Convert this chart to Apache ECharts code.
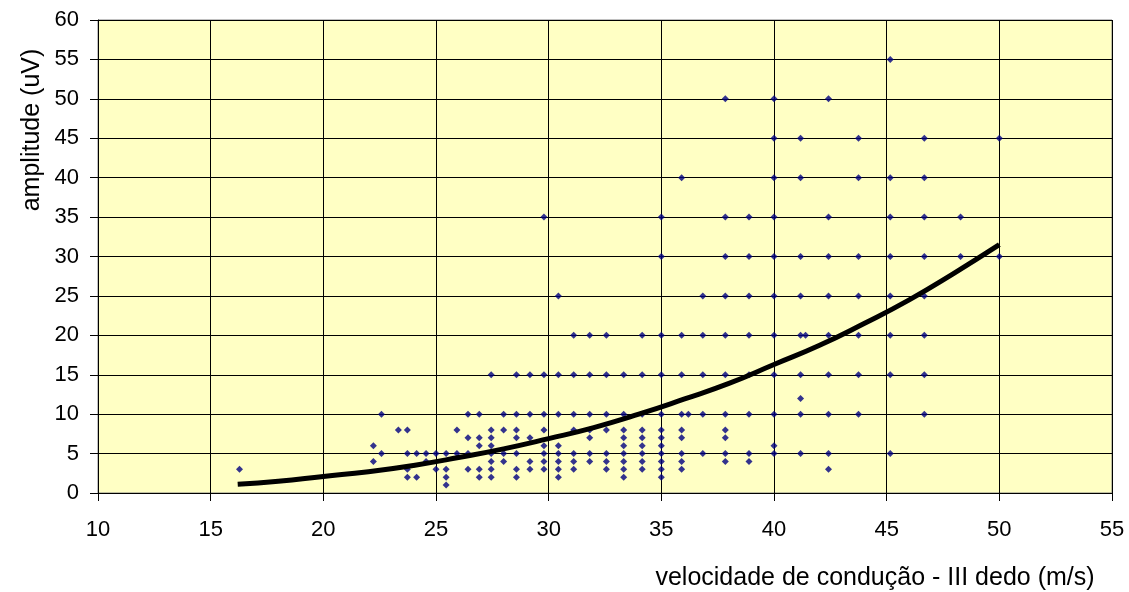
<!DOCTYPE html>
<html>
<head>
<meta charset="utf-8">
<script src="https://cdn.jsdelivr.net/npm/echarts@6/dist/echarts.min.js"></script>
<style>
html,body{margin:0;padding:0;background:#fff;}
#c{width:1129px;height:592px;}
</style>
</head>
<body>
<div id="c"></div>
<script>
// velocities (m/s) observed at each amplitude level (uV)
const amp1  = [25.45];
const amp2  = [23.73, 24.14, 25.45, 26.92, 27.45, 28.57, 30.43, 33.33, 35.0];
const amp3  = [16.28, 23.73, 25.0, 25.45, 26.42, 26.92, 27.45, 28.57, 29.17, 29.79, 30.43, 31.11, 32.56, 33.33, 34.15, 35.0, 35.9, 42.42];
const amp4  = [22.22, 24.56, 27.45, 28.0, 29.17, 29.79, 30.43, 31.11, 31.82, 32.56, 33.33, 34.15, 35.0, 35.9, 37.84, 38.89];
const amp5  = [22.58, 23.73, 24.14, 24.56, 25.0, 25.45, 25.93, 26.42, 27.45, 28.0, 28.57, 29.79, 30.43, 31.11, 31.82, 32.56, 33.33, 34.15, 35.0, 35.9, 36.84, 37.84, 38.89, 40.0, 41.18, 42.42, 45.16];
const amp6  = [22.22, 26.92, 27.45, 29.79, 30.43, 33.33, 34.15, 35.0, 40.0];
const amp7  = [26.42, 26.92, 27.45, 28.57, 29.17, 31.82, 33.33, 34.15, 35.0, 35.9, 37.84];
const amp8  = [23.33, 23.73, 25.93, 27.45, 28.0, 28.57, 29.79, 31.11, 31.82, 32.56, 33.33, 34.15, 35.0, 35.9, 37.84];
const amp10 = [22.58, 26.42, 26.92, 28.0, 28.57, 29.17, 29.79, 30.43, 31.11, 31.82, 32.56, 33.33, 34.15, 35.0, 35.9, 36.2, 36.84, 37.84, 38.89, 40.0, 41.18, 42.42, 43.75, 46.67];
const amp12 = [41.18];
const amp15 = [27.45, 28.57, 29.17, 29.79, 30.43, 31.11, 31.82, 32.56, 33.33, 34.15, 35.0, 35.9, 36.84, 37.84, 38.89, 40.0, 41.18, 42.42, 43.75, 45.16, 46.67];
const amp20 = [31.11, 31.82, 32.56, 34.15, 35.0, 35.9, 36.84, 37.84, 38.89, 40.0, 41.18, 41.4, 42.42, 43.75, 45.16, 46.67];
const amp25 = [30.43, 36.84, 37.84, 38.89, 40.0, 41.18, 42.42, 43.75, 45.16, 46.67];
const amp30 = [35.0, 37.84, 38.89, 40.0, 41.18, 42.42, 43.75, 45.16, 46.67, 48.28, 50.0];
const amp35 = [29.79, 35.0, 37.84, 38.89, 40.0, 42.42, 45.16, 46.67, 48.28];
const amp40 = [35.9, 40.0, 41.18, 43.75, 45.16, 46.67];
const amp45 = [40.0, 41.18, 43.75, 46.67, 50.0];
const amp50 = [37.84, 40.0, 42.42];
const amp55 = [45.16];

// trend curve
const trendX = [16.2, 18, 20, 22, 24, 26, 28, 30, 32, 34, 36, 38, 40, 42, 44, 46, 48, 50];
const trendY = [1.1, 1.5, 2.1, 2.7, 3.5, 4.5, 5.6, 6.9, 8.3, 10.0, 11.9, 13.9, 16.3, 18.7, 21.5, 24.5, 27.9, 31.5];

const xTitle = 'velocidade de condução - III dedo (m/s)';
const yTitle = 'amplitude (uV)';

const levels = [
  [1, amp1], [2, amp2], [3, amp3], [4, amp4], [5, amp5], [6, amp6], [7, amp7], [8, amp8],
  [10, amp10], [12, amp12], [15, amp15], [20, amp20], [25, amp25], [30, amp30],
  [35, amp35], [40, amp40], [45, amp45], [50, amp50], [55, amp55]
];
const scatterData = [];
levels.forEach(([a, xs]) => xs.forEach(x => scatterData.push([x, a])));
const trendData = trendX.map((x, i) => [x, trendY[i]]);

const FONT = 'Liberation Sans, Arial, sans-serif';
const chart = echarts.init(document.getElementById('c'), null, {renderer: 'canvas'});
chart.setOption({
  animation: false,
  backgroundColor: '#ffffff',
  grid: {
    left: 98, right: 17, top: 20, bottom: 99,
    show: true, backgroundColor: '#FFFFC4', borderColor: '#808080', borderWidth: 1
  },
  xAxis: {
    type: 'value', min: 10, max: 55, interval: 5,
    axisLine: {show: true, onZero: false, lineStyle: {color: '#000', width: 1}},
    axisTick: {show: true, length: 8, lineStyle: {color: '#000'}},
    axisLabel: {color: '#000', fontFamily: FONT, fontSize: 22, margin: 26},
    splitLine: {show: true, lineStyle: {color: '#000', width: 1}}
  },
  yAxis: {
    type: 'value', min: 0, max: 60, interval: 5,
    axisLine: {show: true, onZero: false, lineStyle: {color: '#000', width: 1}},
    axisTick: {show: true, length: 8, lineStyle: {color: '#000'}},
    axisLabel: {color: '#000', fontFamily: FONT, fontSize: 22, margin: 19},
    splitLine: {show: true, lineStyle: {color: '#000', width: 1}}
  },
  graphic: [
    {type: 'text', x: 875, y: 578, z: 10,
     style: {text: xTitle, fill: '#000', font: '25px ' + FONT, textAlign: 'center', textVerticalAlign: 'middle'}},
    {type: 'text', x: 32, y: 130, rotation: Math.PI / 2, z: 10,
     style: {text: yTitle, fill: '#000', font: '25px ' + FONT, textAlign: 'center', textVerticalAlign: 'middle'}}
  ],
  series: [
    {
      type: 'scatter', data: scatterData, symbol: 'diamond', symbolSize: 7,
      itemStyle: {color: '#000080'}, z: 2
    },
    {
      type: 'line', data: trendData, smooth: true, showSymbol: false, symbol: 'none',
      lineStyle: {color: '#000', width: 5}, z: 3
    }
  ]
});
</script>
</body>
</html>
